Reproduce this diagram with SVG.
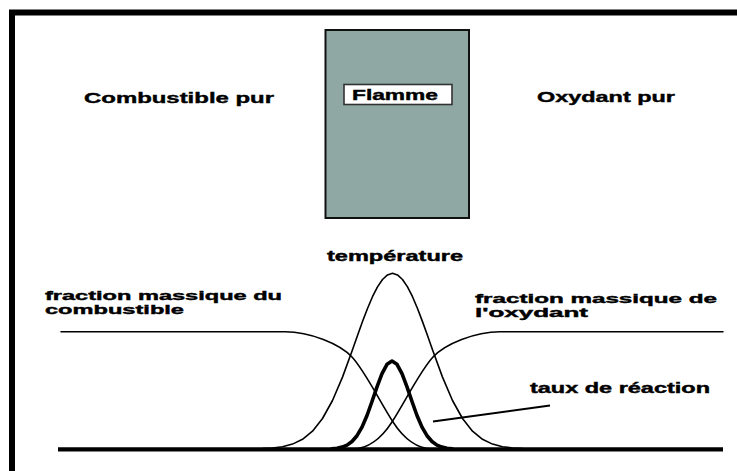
<svg xmlns="http://www.w3.org/2000/svg" width="737" height="471" viewBox="0 0 737 471">
  <style>
    .lbl { font-family: "Liberation Sans", Arial, sans-serif; font-weight: bold; font-size: 14px; fill: #000; stroke: #000; stroke-width: 0.4; }
    .big { font-size: 15px; }
    .sm { font-size: 12.5px; }
    .thin { fill: none; stroke: #000; stroke-width: 1.6; stroke-linejoin: round; stroke-linecap: round; }
    .thick { fill: none; stroke: #000; stroke-width: 3.6; stroke-linejoin: round; stroke-linecap: round; }
  </style>
  <rect width="737" height="471" fill="#fff"/>
  <!-- frame -->
  <path d="M12 471 V12.5 H737" fill="none" stroke="#000" stroke-width="6"/>

  <g id="flamme-zone">
    <rect x="325.5" y="30" width="143.5" height="188" fill="#8fa8a3" stroke="#111" stroke-width="2"/>
  </g>
  <g id="flamme">
    <rect x="344" y="84.5" width="108" height="20" fill="#fff" stroke="#333" stroke-width="1.6"/>
    <text class="lbl" x="352" y="99.5" textLength="86" lengthAdjust="spacingAndGlyphs">Flamme</text>
  </g>
  <g id="combustible-pur">
    <text class="lbl big" x="84" y="102.5" textLength="190" lengthAdjust="spacingAndGlyphs">Combustible pur</text>
  </g>
  <g id="oxydant-pur">
    <text class="lbl big" x="537" y="101.5" textLength="138" lengthAdjust="spacingAndGlyphs">Oxydant pur</text>
  </g>
  <g id="temperature-label">
    <text class="lbl" x="327" y="261" textLength="136" lengthAdjust="spacingAndGlyphs">température</text>
  </g>
  <g id="fraction-combustible-label">
    <text class="lbl sm" x="45" y="299.5" textLength="237" lengthAdjust="spacingAndGlyphs">fraction massique du</text>
    <text class="lbl sm" x="45" y="314" textLength="139" lengthAdjust="spacingAndGlyphs">combustible</text>
  </g>
  <g id="fraction-oxydant-label">
    <text class="lbl sm" x="475" y="302.5" textLength="242" lengthAdjust="spacingAndGlyphs">fraction massique de</text>
    <text class="lbl sm" x="475" y="317" textLength="113" lengthAdjust="spacingAndGlyphs">l'oxydant</text>
  </g>
  <g id="taux-label">
    <text class="lbl" x="530" y="393" textLength="180" lengthAdjust="spacingAndGlyphs">taux de réaction</text>
  </g>

  <g id="curves">
    <!-- fuel mass fraction -->
    <path class="thin" d="M61 331.7 L285 331.7 C310 331.7 340 344 352 357 C365 371 380 402 393 422 C404 439 418 449 432 449"/>
    <!-- oxidant mass fraction -->
    <path class="thin" d="M723 331.7 L500 331.7 C475 331.7 445 344 433 357 C420 371 405 402 392 422 C381 439 367 449 353 449"/>
    <!-- temperature -->
    <path class="thin" d="M262.5 448.6 L272.5 448 L282.5 446.7 L292.5 444.1 L302.5 439.3 L312.5 431.2 L322.5 418.5 L332.5 400.5 L342.5 377.1 L352.5 349.8 L357.5 335.6 L362.5 321.6 L367.5 308.5 L372.5 296.7 L377.5 286.9 L382.5 279.5 L387.5 274.9 L392.5 273.3 L397.5 274.9 L402.5 279.5 L407.5 286.9 L412.5 296.7 L417.5 308.5 L422.5 321.6 L427.5 335.6 L432.5 349.8 L442.5 377.1 L452.5 400.5 L462.5 418.5 L472.5 431.2 L482.5 439.3 L492.5 444.1 L502.5 446.7 L512.5 448 L522.5 448.6"/>
    <!-- reaction rate -->
    <path class="thick" d="M332 448.7 L337 448.2 L342 447.1 L347 445.1 L352 441.5 L357 435.7 L362 427.1 L367 415.5 L372 401.5 L377 386.8 L382 373.6 L387 364.3 L392 361 L397 364.3 L402 373.6 L407 386.8 L412 401.5 L417 415.5 L422 427.1 L427 435.7 L432 441.5 L437 445.1 L442 447.1 L447 448.2 L452 448.7"/>
    <!-- pointer to reaction rate -->
    <line x1="433" y1="421.5" x2="550" y2="405.5" stroke="#000" stroke-width="2"/>
    <!-- axis -->
    <line x1="58" y1="449.3" x2="723" y2="449.3" stroke="#000" stroke-width="4.2"/>
  </g>
</svg>
